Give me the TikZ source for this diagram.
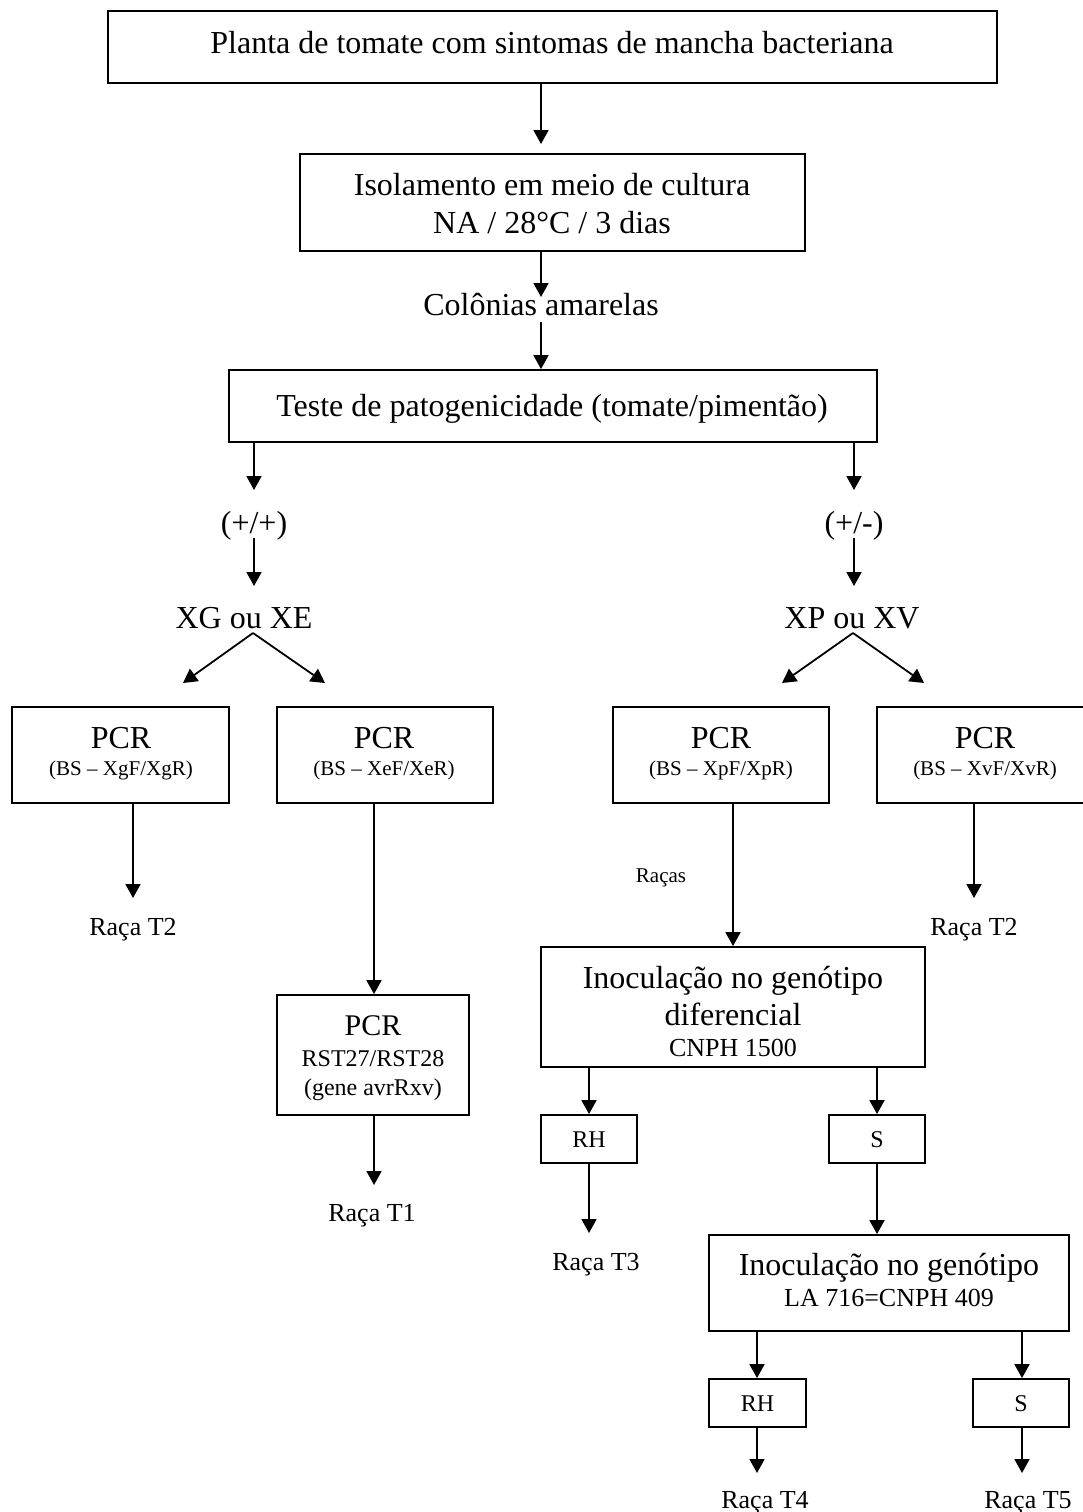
\documentclass[tikz,border=0pt]{standalone}
\usepackage{fontspec}
\setmainfont{Liberation Serif}
\usetikzlibrary{arrows.meta}
\begin{document}
\begin{tikzpicture}[x=1pt,y=-1pt,
  box/.style={draw, line width=1.8pt, inner sep=0pt, anchor=center},
  txt/.style={inner sep=0pt, anchor=center, text depth=0pt},
  big/.style={font=\fontsize{32}{38}\selectfont, text height=21pt},
  pcr/.style={font=\fontsize{30}{34}\selectfont, text height=20pt},
  mid/.style={font=\fontsize{26}{30}\selectfont, text height=17pt},
  sml/.style={font=\fontsize{24}{28}\selectfont, text height=16pt},
  tiny/.style={font=\fontsize{21}{25}\selectfont, text height=14pt},
  arr/.style={line width=1.8pt, -{Triangle[length=14pt,width=15pt]}}]
\useasboundingbox (0,0) rectangle (1083,1512);
\clip (0,0) rectangle (1083,1512);
\fill[white] (0,0) rectangle (1083,1512);

% boxes
\node[box, minimum width=889pt, minimum height=72pt] (b1) at (552.5,47) {};
\node[box, minimum width=505pt, minimum height=97pt] (b2) at (552.5,202.5) {};
\node[box, minimum width=648pt, minimum height=72pt] (b3) at (553,406) {};
\node[box, minimum width=217pt, minimum height=96pt] (pA) at (120.5,755) {};
\node[box, minimum width=216pt, minimum height=96pt] (pB) at (385,755) {};
\node[box, minimum width=216pt, minimum height=96pt] (pC) at (721,755) {};
\node[box, minimum width=216pt, minimum height=96pt] (pD) at (985,755) {};
\node[box, minimum width=192pt, minimum height=120pt] (pB2) at (373,1055) {};
\node[box, minimum width=384pt, minimum height=120pt] (in1) at (733,1007) {};
\node[box, minimum width=96pt, minimum height=48pt] (rh1) at (589,1139) {};
\node[box, minimum width=96pt, minimum height=48pt] (s1) at (877,1139) {};
\node[box, minimum width=360pt, minimum height=96pt] (in2) at (889,1283) {};
\node[box, minimum width=97pt, minimum height=48pt] (rh2) at (757.5,1403) {};
\node[box, minimum width=96pt, minimum height=48pt] (s2) at (1021,1403) {};

% texts
\node[txt,big] (t1) at (552,43) {Planta de tomate com sintomas de mancha bacteriana};
\node[txt,big] (t2a) at (552,185) {Isolamento em meio de cultura};
\node[txt,big] (t2b) at (552,223) {NA / 28°C / 3 dias};
\node[txt,big] (col) at (541,305) {Colônias amarelas};
\node[txt,big] (t3) at (552,406) {Teste de patogenicidade (tomate/pimentão)};
\node[txt,big] (pp) at (254,523) {(+/+)};
\node[txt,big] (pm) at (854,523) {(+/-)};
\node[txt,big] (xg) at (244,618) {XG ou XE};
\node[txt,big] (xp) at (852,618) {XP ou XV};

\node[txt,big] (pAt) at (121,738) {PCR};
\node[txt,tiny] (pAs) at (121,768) {(BS – XgF/XgR)};
\node[txt,big] (pBt) at (384,738) {PCR};
\node[txt,tiny] (pBs) at (384,768) {(BS – XeF/XeR)};
\node[txt,big] (pCt) at (721,738) {PCR};
\node[txt,tiny] (pCs) at (721,768) {(BS – XpF/XpR)};
\node[txt,big] (pDt) at (985,738) {PCR};
\node[txt,tiny] (pDs) at (985,768) {(BS – XvF/XvR)};

\node[txt,mid] (rA) at (133,927) {Raça T2};
\node[txt,mid] (rD) at (974,927) {Raça T2};
\node[txt,tiny] (rc) at (661,875) {Raças};

\node[txt,pcr] (pB2t) at (373,1025) {PCR};
\node[txt,sml] (pB2a) at (373,1058) {RST27/RST28};
\node[txt,sml] (pB2b) at (373,1087) {(gene avrRxv)};
\node[txt,mid] (r1) at (372,1213) {Raça T1};

\node[txt,big] (in1a) at (733,978) {Inoculação no genótipo};
\node[txt,big] (in1b) at (733,1015) {diferencial};
\node[txt,mid] (in1c) at (733,1048) {CNPH 1500};
\node[txt,sml] (rh1t) at (589,1139) {RH};
\node[txt,sml] (s1t) at (877,1139) {S};
\node[txt,mid] (r3) at (596,1262) {Raça T3};

\node[txt,big] (in2a) at (889,1265) {Inoculação no genótipo};
\node[txt,mid] (in2b) at (889,1298) {LA 716=CNPH 409};
\node[txt,sml] (rh2t) at (757.5,1403) {RH};
\node[txt,sml] (s2t) at (1021,1403) {S};
\node[txt,mid] (r4) at (765,1500) {Raça T4};
\node[txt,mid] (r5) at (1028,1500) {Raça T5};

% arrow end points
\coordinate (e1) at (541,144);
\coordinate (e2) at (541,297);
\coordinate (s3) at (541,322);
\coordinate (eL) at (254,490);
\coordinate (eR) at (854,490);
\coordinate (sL) at (254,538);
\coordinate (sR) at (854,538);
\coordinate (eL2) at (254,586);
\coordinate (eR2) at (854,586);
\coordinate (apL) at (253,633);
\coordinate (apR) at (853,633);
\coordinate (dLL) at (183,683);
\coordinate (dLR) at (325,683);
\coordinate (dRL) at (782,683);
\coordinate (dRR) at (924,683);
\coordinate (eA) at (133,898);
\coordinate (eD) at (974,898);
\coordinate (eB2) at (374,1185);
\coordinate (e3) at (589,1233);
\coordinate (e4) at (757,1473);
\coordinate (e5) at (1022,1473);

% connectors
\draw[arr] (b1.south -| e1) -- (e1);
\draw[arr] (b2.south -| e2) -- (e2);
\draw[arr] (s3) -- (b3.north -| s3);
\draw[arr] (b3.south -| eL) -- (eL);
\draw[arr] (b3.south -| eR) -- (eR);
\draw[arr] (sL) -- (eL2);
\draw[arr] (sR) -- (eR2);
\draw[arr] (apL) -- (dLL);
\draw[arr] (apL) -- (dLR);
\draw[arr] (apR) -- (dRL);
\draw[arr] (apR) -- (dRR);
\draw[arr] (pA.south -| eA) -- (eA);
\draw[arr] (pD.south -| eD) -- (eD);
\draw[arr] (pB.south -| 374,0) -- (pB2.north -| 374,0);
\draw[arr] (pB2.south -| eB2) -- (eB2);
\draw[arr] (pC.south -| 733,0) -- (in1.north -| 733,0);
\draw[arr] (in1.south -| rh1) -- (rh1.north);
\draw[arr] (in1.south -| s1) -- (s1.north);
\draw[arr] (rh1.south) -- (e3);
\draw[arr] (s1.south) -- (in2.north -| s1);
\draw[arr] (in2.south -| e4) -- (rh2.north -| e4);
\draw[arr] (in2.south -| e5) -- (s2.north -| e5);
\draw[arr] (rh2.south -| e4) -- (e4);
\draw[arr] (s2.south -| e5) -- (e5);
\end{tikzpicture}
\end{document}
